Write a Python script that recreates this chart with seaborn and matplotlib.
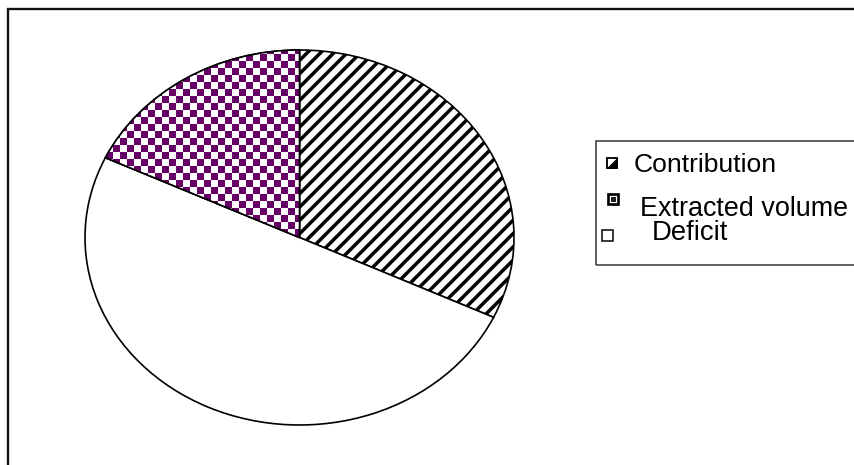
import numpy as np
import matplotlib
matplotlib.use("Agg")
import matplotlib.pyplot as plt
import seaborn as sns
from matplotlib.patches import Rectangle, Polygon, PathPatch
from matplotlib.colors import ListedColormap

# ---- data ----
categories = ["Contribution", "Deficit", "Extracted volume"]
values = [32, 50, 18]
legend_order = ["Contribution", "Extracted volume", "Deficit"]

sns.set_theme(style="white")
plt.rcParams['font.family'] = ['Liberation Sans', 'DejaVu Sans']
plt.rcParams['hatch.linewidth'] = 2.1

W, H, DPI = 854, 465, 120
fig = plt.figure(figsize=(W / DPI, H / DPI), dpi=DPI)
fig.patch.set_facecolor("white")

def fx(px):
    return px / W

def fy(py):
    return 1 - py / H

# axes that exactly cover the elliptical pie
left, right, top, bottom = 85, 514, 50, 425
ax = fig.add_axes([fx(left), fy(bottom), fx(right - left), (bottom - top) / H])

purple = "#660066"
wedges, _ = ax.pie(values, startangle=90, counterclock=False,
                   colors=["white", "white", "white"],
                   wedgeprops=dict(edgecolor="black", linewidth=1.0))
ax.set_aspect("auto")
ax.axis("off")
for w in wedges:
    w.set_clip_on(False)

# hatching for Contribution
wedges[0].set_hatch("///")

# checkerboard for Extracted volume
cell_x = 7 / ((right - left) / 2)
cell_y = 7 / ((bottom - top) / 2)
nx = int(np.ceil(2 / cell_x))
ny = int(np.ceil(2 / cell_y))
ii, jj = np.meshgrid(np.arange(nx), np.arange(ny))
board = ((ii + jj) % 2).astype(float)
im = ax.imshow(board, extent=(-1, -1 + nx * cell_x, -1, -1 + ny * cell_y),
               cmap=ListedColormap(["white", purple]), interpolation="nearest",
               origin="lower", zorder=wedges[2].get_zorder() + 0.1, aspect="auto")
im.set_clip_path(wedges[2])
ax.set_xlim(-1, 1)
ax.set_ylim(-1, 1)
ax.set_aspect("auto")
# outline of the extracted wedge above the image
outline = PathPatch(wedges[2].get_path(), fill=False, edgecolor="black",
                    linewidth=1.0, transform=wedges[2].get_transform(),
                    zorder=5, clip_on=False)
ax.add_patch(outline)

# outer frame (only left and top visible)
fig.add_artist(Rectangle((fx(8), fy(470)), fx(900), (470 - 9) / H,
                         transform=fig.transFigure, fill=False,
                         edgecolor="#111111", linewidth=1.4))

# legend box
fig.add_artist(Rectangle((fx(596), fy(265)), fx(300), (265 - 141) / H,
                         transform=fig.transFigure, fill=False,
                         edgecolor="#333333", linewidth=0.9))

# legend keys
def key_rect(x0, y0, x1, y1, fc="white", lw=1.1):
    r = Rectangle((fx(x0), fy(y1)), fx(x1 - x0), (y1 - y0) / H,
                  transform=fig.transFigure, facecolor=fc,
                  edgecolor="black", linewidth=lw)
    fig.add_artist(r)

# Contribution key
key_rect(607, 158, 617, 168)
fig.add_artist(Polygon([(fx(607), fy(168)), (fx(617), fy(168)), (fx(617), fy(158))],
                       closed=True, transform=fig.transFigure,
                       facecolor="black", edgecolor="black", linewidth=0.5))
# Extracted volume key
key_rect(608, 194, 618, 204, fc="white", lw=1.6)
key_rect(611, 197, 615, 201, fc="#222222", lw=0.5)
# Deficit key
key_rect(602, 230, 613, 241, fc="white", lw=0.9)

fig.text(fx(634), fy(165), legend_order[0], fontsize=15.9, va="center", ha="left",
         color="black")
fig.text(fx(640), fy(209), legend_order[1], fontsize=16.1, va="center", ha="left",
         color="black")
fig.text(fx(652), fy(233), legend_order[2], fontsize=16.5, va="center", ha="left",
         color="black")

fig.savefig("out.png", dpi=DPI, facecolor="white")
